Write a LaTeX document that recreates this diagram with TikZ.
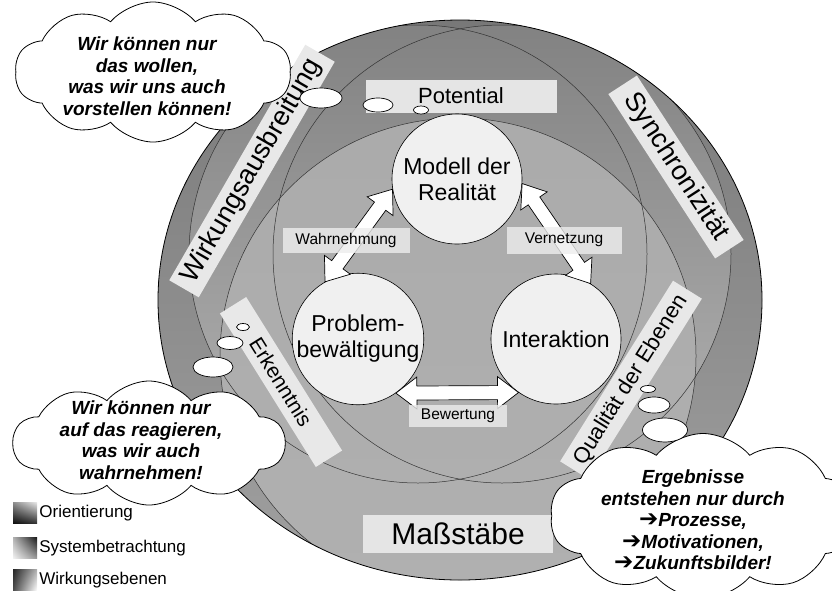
\documentclass[tikz,border=0pt]{standalone}
\usepackage{fontspec}
\setmainfont{Liberation Sans}
\newfontfamily\dejavu{DejaVu Sans}
\usetikzlibrary{shapes.geometric,shapes.symbols,shadings,calc,positioning}

% white block arrow with two heads between two points
\newcommand{\blockarrow}[2]{%
  \draw[arrowshape] let \p1=(#1), \p2=(#2),
      \n1={atan2(\y2-\y1,\x2-\x1)}, \n2={veclen(\x2-\x1,\y2-\y1)} in
    [shift={(\p1)}, rotate=\n1]
    (0,0) -- (21,-16) -- (21,-7) -- ({\n2-21},-7) -- ({\n2-21},-16)
    -- (\n2,0) -- ({\n2-21},16) -- ({\n2-21},7) -- (21,7) -- (21,16) -- cycle;}

\newcommand{\rarrow}{{\dejavu\upshape\mdseries\fontsize{23}{20}\selectfont ➔}}

\tikzset{
  ringline/.style={draw=black!80, line width=0.5pt},
  outerline/.style={draw=black, line width=0.8pt},
  labelbox/.style={fill=black!9, inner sep=2pt, minimum height=34pt},
  plainbox/.style={fill=black!10, inner sep=0pt},
  tagbox/.style={fill=black!7, fill opacity=0.8, text opacity=1, inner sep=0pt,
    font=\fontsize{15.5}{17}\selectfont},
  theme/.style={circle, draw=black, line width=0.6pt, fill=black!6, inner sep=0pt,
    minimum size=130pt, align=center, font=\fontsize{23}{26}\selectfont},
  arrowshape/.style={draw=black, fill=white, line width=0.7pt},
  thought/.style={cloud, cloud puffs=10, cloud puff arc=100, cloud ignores aspect,
    draw=black, fill=white, line width=0.8pt, inner sep=0pt},
  thoughttext/.style={align=center, font=\fontsize{19}{21.5}\selectfont\bfseries\itshape},
  bubble/.style={ellipse, draw=black, fill=white, line width=0.7pt, inner sep=0pt},
  swatch/.style={minimum width=24pt, minimum height=21pt, inner sep=0pt},
  legendtext/.style={inner sep=0pt, font=\fontsize{17}{19}\selectfont}
}

\begin{document}
\begin{tikzpicture}[x=1pt, y=-1pt]
\useasboundingbox (0,0) rectangle (832,590);

% levels
\begin{scope}
  \clip (460,300) ellipse [x radius=302, y radius=280];
  \shade[top color=black!53, bottom color=black!37] (460,300) ellipse [x radius=302, y radius=280];
  \shade[top color=black!49, bottom color=black!30] (418,254) circle (229) (502,254) circle (229);
  \shade[top color=black!33, middle color=black!21, bottom color=black!31] (458,356) circle (238);
  \draw[ringline] (418,254) circle (229);
  \draw[ringline] (502,254) circle (229);
  \draw[ringline] (458,356) circle (238);
\end{scope}
\draw[outerline] (460,300) ellipse [x radius=302, y radius=280];

% level labels
\node[labelbox, rotate=60, minimum width=272pt, font=\fontsize{27}{29}\selectfont] (wirkung) at (252,171) {Wirkungsausbreitung};
\node[labelbox, rotate=-57, minimum width=196pt, font=\fontsize{27}{29}\selectfont] (synchro) at (676,167) {Synchronizität};
\node[labelbox, rotate=-58, minimum width=181pt, minimum height=31pt, font=\fontsize{21}{23}\selectfont] (erkenntnis) at (281,382) {Erkenntnis};
\node[labelbox, rotate=58, minimum width=213pt, font=\fontsize{22}{24}\selectfont] (qualitaet) at (631,380) {Qualität der Ebenen};
\node[plainbox, minimum width=191pt, minimum height=33pt, font=\fontsize{22}{24}\selectfont] (potential) at (461,96) {Potential};
\node[plainbox, minimum width=190pt, minimum height=38pt, font=\fontsize{30}{32}\selectfont] (massstab) at (458,534) {Maßstäbe};

% themes
\node[theme] (modell) at (457,179) {Modell der\\Realität};
\node[theme] (problem) at (358,339) {Problem-\\bewältigung};
\node[theme] (interaktion) at (556,339) {Interaktion};

\blockarrow{modell.189}{problem.120}
\blockarrow{modell.-4}{interaktion.58}
\blockarrow{problem.-55}{interaktion.235}

% arrow labels
\node[tagbox, minimum width=127pt, minimum height=25pt] (wahrnehmung) at (346,240) {Wahrnehmung};
\node[tagbox, minimum width=115pt, minimum height=27pt] (vernetzung) at (564,240) {Vernetzung};
\node[tagbox, minimum width=98pt, minimum height=22pt] (bewertung) at (458,416) {Bewertung};

% thoughts
\node[thought, minimum width=276pt, minimum height=140pt] (cloudwill) at (153,72) {};
\node[thoughttext] (textwill) at (147,76) {Wir können nur\\das wollen,\\was wir uns auch\\vorstellen können!};
\node[bubble, minimum width=42pt, minimum height=20pt] (dotwill1) at (321,98) {};
\node[bubble, minimum width=30pt, minimum height=14pt] (dotwill2) at (378,105) {};
\node[bubble, minimum width=15pt, minimum height=8pt] (dotwill3) at (421,110) {};

\node[thought, minimum width=272pt, minimum height=124pt] (cloudsee) at (149,443) {};
\node[thoughttext] (textsee) at (141,440) {Wir können nur\\auf das reagieren,\\was wir auch\\wahrnehmen!};
\node[bubble, minimum width=40pt, minimum height=20pt] (dotsee1) at (213,367) {};
\node[bubble, minimum width=26pt, minimum height=13pt] (dotsee2) at (230,343) {};
\node[bubble, minimum width=13pt, minimum height=7pt] (dotsee3) at (243,327) {};

\node[thought, minimum width=306pt, minimum height=165pt] (cloudresult) at (703,516) {};
\node[thoughttext] (textresult) at (693,520) {Ergebnisse\\entstehen nur durch\\\rarrow Prozesse,\\\rarrow Motivationen,\\\rarrow Zukunftsbilder!};
\node[bubble, minimum width=15pt, minimum height=7pt] (dotresult1) at (648,389) {};
\node[bubble, minimum width=32pt, minimum height=16pt] (dotresult2) at (654,405) {};
\node[bubble, minimum width=45pt, minimum height=24pt] (dotresult3) at (665,430) {};

% legend
\node[swatch, upper left=black!45, upper right=black!10, lower left=black!95, lower right=black!80] (legori) at (25,513) {};
\node[legendtext, right=2pt of legori] {Orientierung};
\node[swatch, upper left=black!30, upper right=black!90, lower left=black!5, lower right=black!40] (legsys) at (25,548) {};
\node[legendtext, right=2pt of legsys] {Systembetrachtung};
\node[swatch, upper left=black!85, upper right=black!30, lower left=black!70, lower right=white] (legwirk) at (25,580) {};
\node[legendtext, right=2pt of legwirk] {Wirkungsebenen};
\end{tikzpicture}
\end{document}
